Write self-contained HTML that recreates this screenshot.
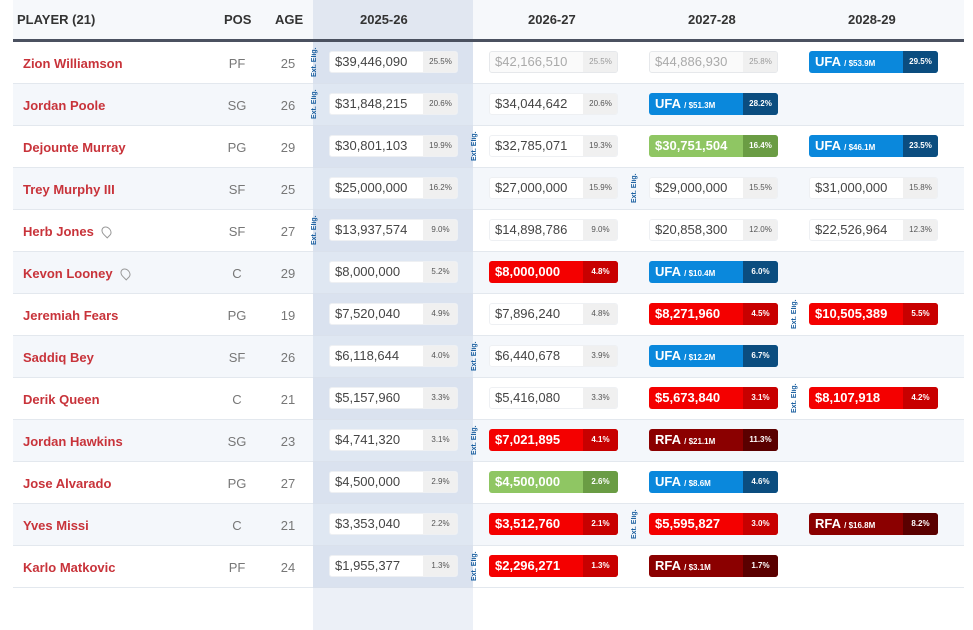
<!DOCTYPE html><html><head><style>
*{margin:0;padding:0;box-sizing:border-box}
body{width:973px;height:588px;background:#fff;font-family:"Liberation Sans",sans-serif;position:relative;overflow:hidden}
.hl{position:absolute;left:313px;top:0;width:160px;height:588px;background:#e4eaf3}
.hd{position:absolute;left:13px;top:0;width:951px;height:40px;background:#f6f8fb}
.hl2{position:absolute;left:313px;top:0;width:160px;height:40px;background:#e1e7f1}
.hb{position:absolute;left:13px;top:39px;width:951px;height:3px;background:#4b5160}
.h{position:absolute;top:12px;font-size:13px;font-weight:bold;color:#333}
.row{position:absolute;left:13px;width:951px;height:42px;border-bottom:1px solid #e3e8ee}
.row.s{background:rgba(240,244,249,.7)}
.n{position:absolute;left:10px;top:14px;font-size:13px;font-weight:bold;color:#c8333a}
.p{position:absolute;width:40px;text-align:center;top:14px;font-size:13px;color:#777}
.c{position:absolute;height:22px;width:129px;border-radius:3px;overflow:hidden;font-size:13px}
.c .v{position:absolute;left:0;top:0;width:94px;height:22px;line-height:22px;padding-left:6px}
.c .q{position:absolute;right:0;top:0;width:35px;height:22px;line-height:22px;text-align:center;font-size:8px}
.w{background:#fff;border:1px solid #eef0f3}.w .v{color:#444;left:-1px;top:-1px}.w .q{background:#f0f0f0;color:#555;top:-1px;right:-1px}
.f{background:#fafafa;border:1px solid #e6e8eb}.f .v{color:#aaa;left:-1px;top:-1px}.f .q{background:#f0f0f0;color:#999;top:-1px;right:-1px}
.r{background:#f40000}.r .v{color:#fff;font-weight:bold}.r .q{background:#c80000;color:#fff;font-weight:bold}
.d{background:#8b0000}.d .v{color:#fff;font-weight:bold}.d .q{background:#5a0000;color:#fff;font-weight:bold}
.b{background:#0a88dc}.b .v{color:#fff;font-weight:bold}.b .q{background:#0b4d7f;color:#fff;font-weight:bold}
.g{background:#8fc663}.g .v{color:#fff;font-weight:bold}.g .q{background:#6a9c44;color:#fff;font-weight:bold}
.v small{font-size:8px}
.e{position:absolute;width:10px;height:30px;font-size:7px;font-weight:bold;color:#1a5fa0;writing-mode:vertical-rl;transform:rotate(180deg);text-align:center;white-space:nowrap}
.ic{display:inline-block;width:9px;height:11px;border:1.5px solid #999;border-radius:50% 50% 50% 0;transform:rotate(-45deg);margin-left:8px;vertical-align:-1px}
</style></head><body>
<div class="hl"></div><div class="hd"></div><div class="hl2"></div><div class="hb"></div>
<div class="h" style="left:17px">PLAYER (21)</div>
<div class="h" style="left:224px">POS</div>
<div class="h" style="left:275px">AGE</div>
<div class="h" style="left:360px">2025-26</div>
<div class="h" style="left:528px">2026-27</div>
<div class="h" style="left:688px">2027-28</div>
<div class="h" style="left:848px">2028-29</div>

<div class="row" style="top:42px"><div class="n">Zion Williamson</div><div class="p" style="left:204px">PF</div><div class="p" style="left:255px">25</div></div>
<div class="row s" style="top:84px"><div class="n">Jordan Poole</div><div class="p" style="left:204px">SG</div><div class="p" style="left:255px">26</div></div>
<div class="row" style="top:126px"><div class="n">Dejounte Murray</div><div class="p" style="left:204px">PG</div><div class="p" style="left:255px">29</div></div>
<div class="row s" style="top:168px"><div class="n">Trey Murphy III</div><div class="p" style="left:204px">SF</div><div class="p" style="left:255px">25</div></div>
<div class="row" style="top:210px"><div class="n">Herb Jones<span class="ic"></span></div><div class="p" style="left:204px">SF</div><div class="p" style="left:255px">27</div></div>
<div class="row s" style="top:252px"><div class="n">Kevon Looney<span class="ic"></span></div><div class="p" style="left:204px">C</div><div class="p" style="left:255px">29</div></div>
<div class="row" style="top:294px"><div class="n">Jeremiah Fears</div><div class="p" style="left:204px">PG</div><div class="p" style="left:255px">19</div></div>
<div class="row s" style="top:336px"><div class="n">Saddiq Bey</div><div class="p" style="left:204px">SF</div><div class="p" style="left:255px">26</div></div>
<div class="row" style="top:378px"><div class="n">Derik Queen</div><div class="p" style="left:204px">C</div><div class="p" style="left:255px">21</div></div>
<div class="row s" style="top:420px"><div class="n">Jordan Hawkins</div><div class="p" style="left:204px">SG</div><div class="p" style="left:255px">23</div></div>
<div class="row" style="top:462px"><div class="n">Jose Alvarado</div><div class="p" style="left:204px">PG</div><div class="p" style="left:255px">27</div></div>
<div class="row s" style="top:504px"><div class="n">Yves Missi</div><div class="p" style="left:204px">C</div><div class="p" style="left:255px">21</div></div>
<div class="row" style="top:546px"><div class="n">Karlo Matkovic</div><div class="p" style="left:204px">PF</div><div class="p" style="left:255px">24</div></div>
<div class="hl" style="background:rgba(200,212,232,.35);top:42px"></div>

<!-- row1 -->
<div class="c w" style="left:329px;top:51px"><div class="v">$39,446,090</div><div class="q">25.5%</div></div>
<div class="c f" style="left:489px;top:51px"><div class="v">$42,166,510</div><div class="q">25.5%</div></div>
<div class="c f" style="left:649px;top:51px"><div class="v">$44,886,930</div><div class="q">25.8%</div></div>
<div class="c b" style="left:809px;top:51px"><div class="v">UFA <small>/ $53.9M</small></div><div class="q">29.5%</div></div>
<!-- row2 -->
<div class="c w" style="left:329px;top:93px"><div class="v">$31,848,215</div><div class="q">20.6%</div></div>
<div class="c w" style="left:489px;top:93px"><div class="v">$34,044,642</div><div class="q">20.6%</div></div>
<div class="c b" style="left:649px;top:93px"><div class="v">UFA <small>/ $51.3M</small></div><div class="q">28.2%</div></div>
<!-- row3 -->
<div class="c w" style="left:329px;top:135px"><div class="v">$30,801,103</div><div class="q">19.9%</div></div>
<div class="c w" style="left:489px;top:135px"><div class="v">$32,785,071</div><div class="q">19.3%</div></div>
<div class="c g" style="left:649px;top:135px"><div class="v">$30,751,504</div><div class="q">16.4%</div></div>
<div class="c b" style="left:809px;top:135px"><div class="v">UFA <small>/ $46.1M</small></div><div class="q">23.5%</div></div>
<!-- row4 -->
<div class="c w" style="left:329px;top:177px"><div class="v">$25,000,000</div><div class="q">16.2%</div></div>
<div class="c w" style="left:489px;top:177px"><div class="v">$27,000,000</div><div class="q">15.9%</div></div>
<div class="c w" style="left:649px;top:177px"><div class="v">$29,000,000</div><div class="q">15.5%</div></div>
<div class="c w" style="left:809px;top:177px"><div class="v">$31,000,000</div><div class="q">15.8%</div></div>
<!-- row5 -->
<div class="c w" style="left:329px;top:219px"><div class="v">$13,937,574</div><div class="q">9.0%</div></div>
<div class="c w" style="left:489px;top:219px"><div class="v">$14,898,786</div><div class="q">9.0%</div></div>
<div class="c w" style="left:649px;top:219px"><div class="v">$20,858,300</div><div class="q">12.0%</div></div>
<div class="c w" style="left:809px;top:219px"><div class="v">$22,526,964</div><div class="q">12.3%</div></div>
<!-- row6 -->
<div class="c w" style="left:329px;top:261px"><div class="v">$8,000,000</div><div class="q">5.2%</div></div>
<div class="c r" style="left:489px;top:261px"><div class="v">$8,000,000</div><div class="q">4.8%</div></div>
<div class="c b" style="left:649px;top:261px"><div class="v">UFA <small>/ $10.4M</small></div><div class="q">6.0%</div></div>
<!-- row7 -->
<div class="c w" style="left:329px;top:303px"><div class="v">$7,520,040</div><div class="q">4.9%</div></div>
<div class="c w" style="left:489px;top:303px"><div class="v">$7,896,240</div><div class="q">4.8%</div></div>
<div class="c r" style="left:649px;top:303px"><div class="v">$8,271,960</div><div class="q">4.5%</div></div>
<div class="c r" style="left:809px;top:303px"><div class="v">$10,505,389</div><div class="q">5.5%</div></div>
<!-- row8 -->
<div class="c w" style="left:329px;top:345px"><div class="v">$6,118,644</div><div class="q">4.0%</div></div>
<div class="c w" style="left:489px;top:345px"><div class="v">$6,440,678</div><div class="q">3.9%</div></div>
<div class="c b" style="left:649px;top:345px"><div class="v">UFA <small>/ $12.2M</small></div><div class="q">6.7%</div></div>
<!-- row9 -->
<div class="c w" style="left:329px;top:387px"><div class="v">$5,157,960</div><div class="q">3.3%</div></div>
<div class="c w" style="left:489px;top:387px"><div class="v">$5,416,080</div><div class="q">3.3%</div></div>
<div class="c r" style="left:649px;top:387px"><div class="v">$5,673,840</div><div class="q">3.1%</div></div>
<div class="c r" style="left:809px;top:387px"><div class="v">$8,107,918</div><div class="q">4.2%</div></div>
<!-- row10 -->
<div class="c w" style="left:329px;top:429px"><div class="v">$4,741,320</div><div class="q">3.1%</div></div>
<div class="c r" style="left:489px;top:429px"><div class="v">$7,021,895</div><div class="q">4.1%</div></div>
<div class="c d" style="left:649px;top:429px"><div class="v">RFA <small>/ $21.1M</small></div><div class="q">11.3%</div></div>
<!-- row11 -->
<div class="c w" style="left:329px;top:471px"><div class="v">$4,500,000</div><div class="q">2.9%</div></div>
<div class="c g" style="left:489px;top:471px"><div class="v">$4,500,000</div><div class="q">2.6%</div></div>
<div class="c b" style="left:649px;top:471px"><div class="v">UFA <small>/ $8.6M</small></div><div class="q">4.6%</div></div>
<!-- row12 -->
<div class="c w" style="left:329px;top:513px"><div class="v">$3,353,040</div><div class="q">2.2%</div></div>
<div class="c r" style="left:489px;top:513px"><div class="v">$3,512,760</div><div class="q">2.1%</div></div>
<div class="c r" style="left:649px;top:513px"><div class="v">$5,595,827</div><div class="q">3.0%</div></div>
<div class="c d" style="left:809px;top:513px"><div class="v">RFA <small>/ $16.8M</small></div><div class="q">8.2%</div></div>
<!-- row13 -->
<div class="c w" style="left:329px;top:555px"><div class="v">$1,955,377</div><div class="q">1.3%</div></div>
<div class="c r" style="left:489px;top:555px"><div class="v">$2,296,271</div><div class="q">1.3%</div></div>
<div class="c d" style="left:649px;top:555px"><div class="v">RFA <small>/ $3.1M</small></div><div class="q">1.7%</div></div>

<div class="e" style="left:311px;top:47px">Ext. Elig.</div>
<div class="e" style="left:311px;top:89px">Ext. Elig.</div>
<div class="e" style="left:471px;top:131px">Ext. Elig.</div>
<div class="e" style="left:631px;top:173px">Ext. Elig.</div>
<div class="e" style="left:311px;top:215px">Ext. Elig.</div>
<div class="e" style="left:791px;top:299px">Ext. Elig.</div>
<div class="e" style="left:471px;top:341px">Ext. Elig.</div>
<div class="e" style="left:791px;top:383px">Ext. Elig.</div>
<div class="e" style="left:471px;top:425px">Ext. Elig.</div>
<div class="e" style="left:631px;top:509px">Ext. Elig.</div>
<div class="e" style="left:471px;top:551px">Ext. Elig.</div>
</body></html>
